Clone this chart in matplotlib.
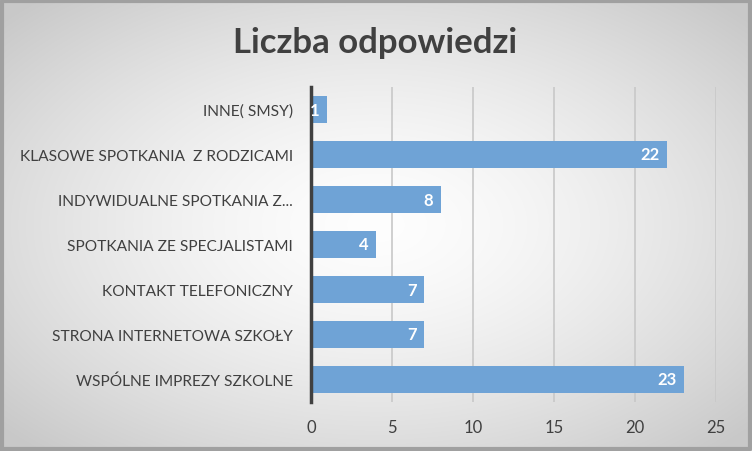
import numpy as np
import matplotlib.pyplot as plt

categories = ['WSPÓLNE IMPREZY SZKOLNE', 'STRONA INTERNETOWA SZKOŁY', 'KONTAKT TELEFONICZNY',
              'SPOTKANIA ZE SPECJALISTAMI', 'INDYWIDUALNE SPOTKANIA Z...',
              'KLASOWE SPOTKANIA  Z RODZICAMI', 'INNE( SMSY)']
values = [23, 7, 7, 4, 8, 22, 1]
xticks = [0, 5, 10, 15, 20, 25]

plt.rcParams['font.family'] = ['Lato', 'DejaVu Sans']

fig = plt.figure(figsize=(7.52, 4.52), dpi=100)

# radial gradient background
bg = fig.add_axes([0, 0, 1, 1])
yy, xx = np.mgrid[-1:1:452j, -1:1:752j]
r = np.sqrt(xx ** 2 + yy ** 2)
shade = 0.995 - 0.21 * np.clip(r / 1.35, 0, 1) ** 1.5
bg.imshow(np.dstack([shade] * 3), extent=[0, 1, 0, 1], aspect='auto')
bg.plot([0.002, 0.998, 0.998, 0.002, 0.002], [0.004, 0.004, 0.996, 0.996, 0.004],
        color='#a0a0a0', lw=3, transform=bg.transAxes)
bg.set_xlim(0, 1)
bg.set_ylim(0, 1)
bg.axis('off')

ax = fig.add_axes([311 / 752, 1 - 403 / 452, 405 / 752, 315 / 452])
ax.patch.set_alpha(0)
y = np.arange(len(categories))
bars = ax.barh(y, values, height=0.58, color='#6fa3d6', zorder=3)
ax.set_xlim(0, 25)
ax.set_ylim(-0.5, len(categories) - 0.5)
ax.set_xticks(xticks)
ax.set_yticks(y)
ax.set_yticklabels(categories, fontsize=11.2, color='#404040')
ax.tick_params(axis='y', length=0, pad=13)
ax.tick_params(axis='x', length=0, pad=12, labelsize=12, labelcolor='#404040')
ax.grid(axis='x', color='#c8c8c8', lw=1.2, zorder=0)
for s in ['top', 'right', 'bottom']:
    ax.spines[s].set_visible(False)
ax.spines['left'].set_color('#404040')
ax.spines['left'].set_linewidth(2.5)
ax.spines['left'].set_zorder(4)

for b, yi, v in zip(bars, y, values):
    t = ax.text(v - 0.45, yi, str(v), ha='right', va='center', color='white',
                fontsize=12, fontweight='bold', zorder=5)
    t.set_clip_path(b)

fig.text(375 / 752, 1 - 43 / 452, 'Liczba odpowiedzi', ha='center', va='center',
         fontsize=25, fontweight='bold', color='#404040')

fig.savefig('out.png', dpi=100)
